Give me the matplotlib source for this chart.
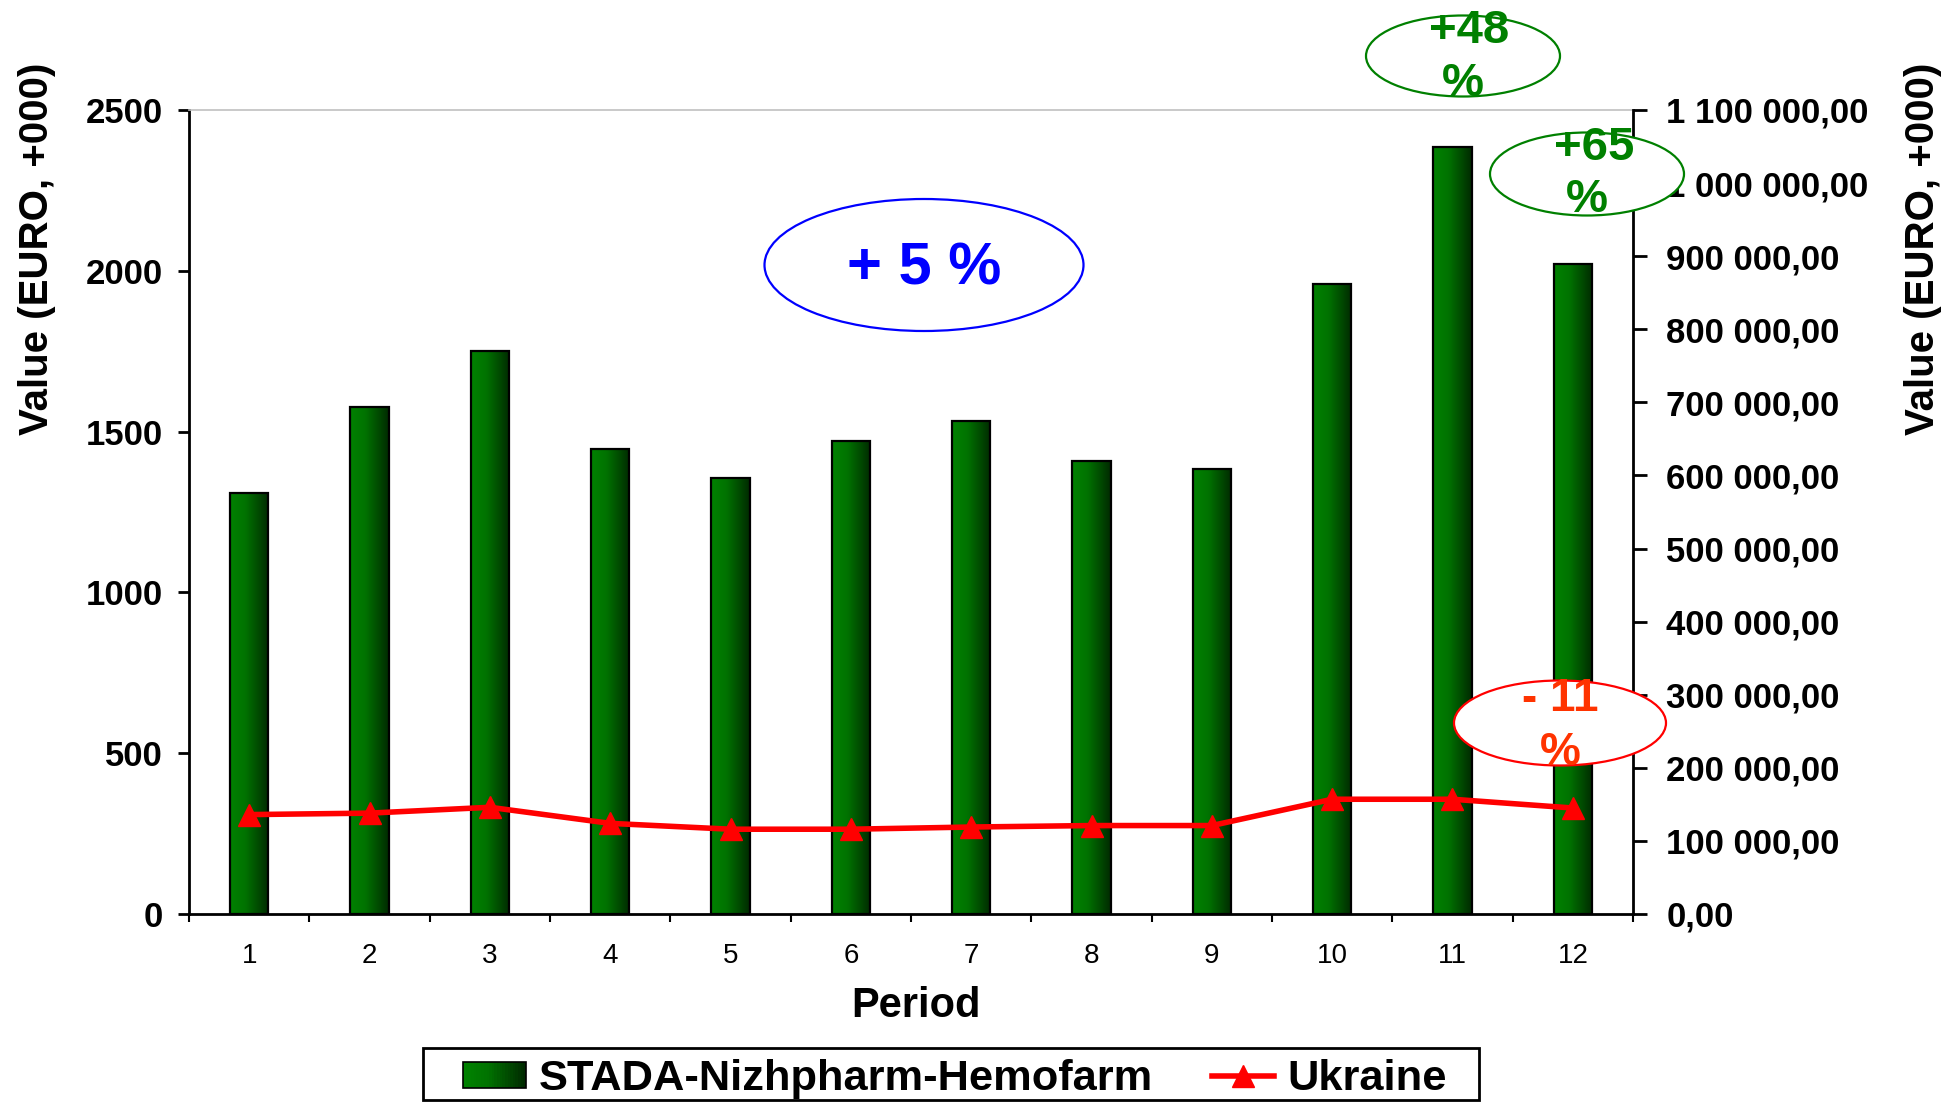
import numpy as np
import matplotlib
matplotlib.use("Agg")
import matplotlib.pyplot as plt
from matplotlib.patches import Ellipse, Patch, Rectangle
from matplotlib.lines import Line2D
from matplotlib.colors import LinearSegmentedColormap
from matplotlib.ticker import FixedLocator, FuncFormatter
from matplotlib.legend_handler import HandlerBase

plt.rcParams["font.family"] = ["Liberation Sans", "DejaVu Sans"]

# ------------------------------------------------------------
# Data
# ------------------------------------------------------------
periods = list(range(1, 13))
stada = [1310, 1575, 1750, 1447, 1355, 1470, 1533, 1408, 1385, 1958, 2384, 2020]
ukraine = [136000, 138000, 146000, 124000, 116000, 116000,
           119000, 121000, 121000, 157000, 157000, 145000]

left_ticks = [0, 500, 1000, 1500, 2000, 2500]
right_ticks = list(range(0, 1100001, 100000))

# callouts: text lines, text colour, ellipse edge colour
callouts = [
    (["+ 5 %"], "#0000ff", "#0000ff"),
    (["+48", "%"], "#008000", "#008000"),
    (["+65", "%"], "#008000", "#008000"),
    (["- 11", "%"], "#ff3300", "#ff0000"),
]

W, H = 1952, 1104
fig = plt.figure(figsize=(W / 100, H / 100), dpi=100)
ax = fig.add_axes([189 / W, 1 - 914 / H, 1444 / W, 804 / H])
ax2 = ax.twinx()

# ------------------------------------------------------------
# Bars with a horizontal green gradient
# ------------------------------------------------------------
green = LinearSegmentedColormap.from_list(
    "bar", [(0, "#008200"), (0.4, "#007200"), (1.0, "#002a00")]
)
grad = np.linspace(0, 1, 256).reshape(1, -1)

bars = ax.bar(periods, stada, width=0.32, facecolor="none",
              edgecolor="black", linewidth=1.6, zorder=3)
for b in bars:
    x0, y0 = b.get_x(), b.get_y()
    im = ax.imshow(grad, cmap=green, aspect="auto", zorder=2,
                   extent=[x0, x0 + b.get_width(), y0, y0 + b.get_height()])
    im.set_clip_path(b)

ax.set_xlim(0.5, 12.5)
ax.set_ylim(0, 2500)
ax.set_aspect("auto")

# x axis: labels at centres, tick marks between categories
ax.xaxis.set_major_locator(FixedLocator(periods))
ax.xaxis.set_minor_locator(FixedLocator(np.arange(0.5, 13, 1)))
ax.tick_params(axis="x", which="major", length=0, pad=21, labelsize=20)
ax.tick_params(axis="x", which="minor", length=6, width=1.5, direction="out")

ax.set_yticks(left_ticks)
ax.tick_params(axis="y", length=8, width=2, pad=11, labelsize=25)
for lab in ax.get_yticklabels():
    lab.set_fontweight("bold")

for s in ["left", "bottom"]:
    ax.spines[s].set_linewidth(2)
ax.spines["top"].set_color("#c0c0c0")
ax.spines["top"].set_linewidth(1.2)
ax.spines["right"].set_visible(False)

# ------------------------------------------------------------
# Ukraine line on the secondary axis
# ------------------------------------------------------------
ax2.plot(periods, ukraine, color="#ff0000", linewidth=4,
         marker="^", markersize=16, zorder=4)
ax2.set_ylim(0, 1100000)
ax2.set_yticks(right_ticks)
ax2.yaxis.set_major_formatter(FuncFormatter(
    lambda v, p: f"{v:,.2f}".replace(",", " ").replace(".", ",")))
ax2.tick_params(axis="y", length=10, width=2, pad=14, labelsize=25)
for lab in ax2.get_yticklabels():
    lab.set_fontweight("bold")
ax2.spines["right"].set_linewidth(2)
for s in ["top", "left", "bottom"]:
    ax2.spines[s].set_visible(False)

# ------------------------------------------------------------
# Axis titles
# ------------------------------------------------------------
fig.text(37 / W, 1 - 249 / H, "Value (EURO, +000)", rotation=90,
         ha="center", va="center", fontsize=29, fontweight="bold")
fig.text(1923 / W, 1 - 249 / H, "Value (EURO, +000)", rotation=90,
         ha="center", va="center", fontsize=29, fontweight="bold")
fig.text(916 / W, 1 - 1006 / H, "Period", ha="center", va="center",
         fontsize=30, fontweight="bold")

# ------------------------------------------------------------
# Callout ellipses
# ------------------------------------------------------------
# (centre x, centre y, width, height) in pixels, text line centres
ell_geom = [
    (924, 265, 319, 132, [(924, 269)]),
    (1463, 56, 194, 81, [(1469, 31), (1463, 84)]),
    (1587, 174, 194, 83, [(1594, 148), (1587, 200)]),
    (1560, 723, 212, 85, [(1560, 699), (1560, 753)]),
]
sizes = [43, 34, 34, 33]
for (lines, tcol, ecol), (cx, cy, ew, eh, pos), fs in zip(callouts, ell_geom, sizes):
    fig.patches.append(Ellipse((cx / W, 1 - cy / H), ew / W, eh / H,
                               transform=fig.transFigure, facecolor="white",
                               edgecolor=ecol, linewidth=1.6, zorder=5))
    for t, (tx, ty) in zip(lines, pos):
        fig.text(tx / W, 1 - ty / H, t, ha="center", va="center",
                 color=tcol, fontsize=fs, fontweight="bold", zorder=6)


# ------------------------------------------------------------
# Legend (gradient swatch, own frame)
# ------------------------------------------------------------
class GradientSwatch(HandlerBase):
    def create_artists(self, legend, orig_handle, xdescent, ydescent,
                       width, height, fontsize, trans):
        arts = []
        n = 24
        for i in range(n):
            arts.append(Rectangle((-xdescent + width * i / n, -ydescent),
                                  width / n * 1.05, height, transform=trans,
                                  facecolor=green(i / (n - 1)), edgecolor="none"))
        arts.append(Rectangle((-xdescent, -ydescent), width, height,
                              transform=trans, facecolor="none",
                              edgecolor="black", linewidth=1.2))
        return arts


handles = [
    Patch(facecolor="#005a00"),
    Line2D([], [], color="#ff0000", linewidth=4, marker="^", markersize=16),
]
fig.legend(handles, ["STADA-Nizhpharm-Hemofarm", "Ukraine"],
           handler_map={Patch: GradientSwatch()},
           loc="center", bbox_to_anchor=(955 / W, 1 - 1079 / H), ncol=2,
           frameon=False, borderpad=0.1, handlelength=1.45, handleheight=0.55,
           handletextpad=0.3, columnspacing=1.35,
           prop={"size": 31.2, "weight": "bold"})
fig.patches.append(Rectangle((423 / W, 1 - 1100 / H), 1056 / W, 52 / H,
                             transform=fig.transFigure, facecolor="none",
                             edgecolor="black", linewidth=2, zorder=4))

fig.savefig("out.png", dpi=100)
